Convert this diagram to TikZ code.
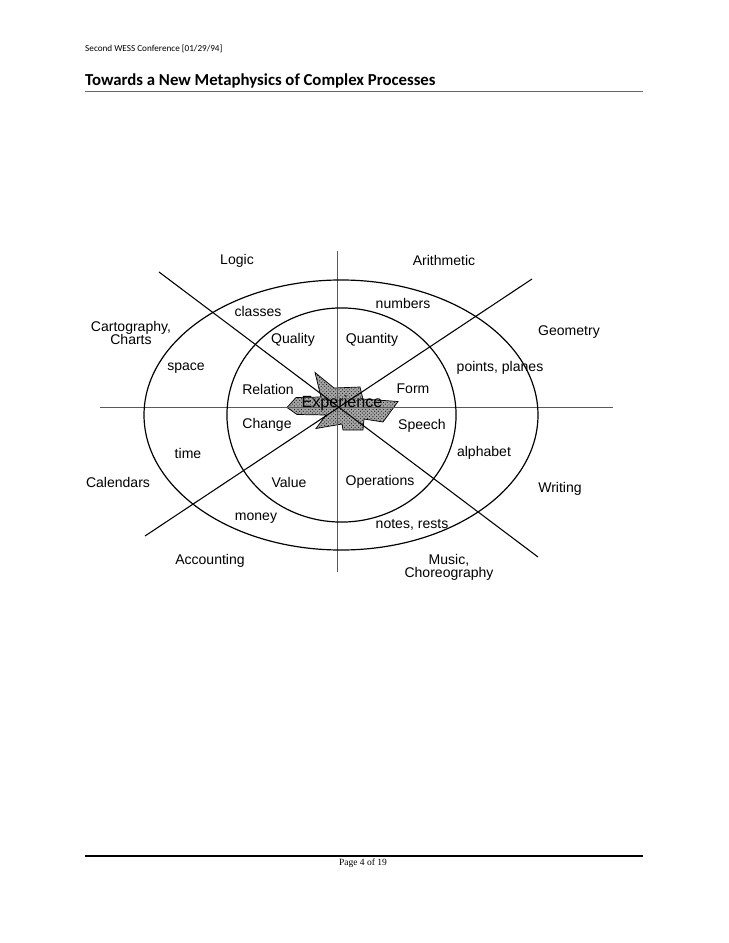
\documentclass[tikz,border=0pt]{standalone}
\usepackage{fontspec}
\setmainfont{Liberation Sans}
\newfontfamily\calib{Carlito}
\newfontfamily\timesf{Liberation Serif}
\usetikzlibrary{patterns}
\begin{document}
\begin{tikzpicture}[x=0.84066pt,y=-0.84066pt,
  lbl/.style={font=\fontsize{11.8}{11.3}\selectfont, inner sep=0pt, align=center},
  axisline/.style={draw=black!65, line width=1.3pt},
  diagline/.style={draw=black, line width=0.9pt},
  ring/.style={draw=black, line width=1pt},
  starfill/.style={fill=black!35},
  stardots/.style={pattern=crosshatch dots, pattern color=black!90},
  starline/.style={draw=black, line width=0.6pt}]
\useasboundingbox (0,0) rectangle (728,943);
\fill[white] (0,0) rectangle (728,943);
% header
\node[font=\calib\fontsize{7.7}{9}\selectfont, anchor=west, inner sep=0pt] (hdr) at (85,49) {Second WESS Conference [01/29/94]};
\node[font=\calib\bfseries\fontsize{14.1}{16}\selectfont, anchor=west, inner sep=0pt] (ttl) at (85,81) {Towards a New Metaphysics of Complex Processes};
\coordinate (hl) at (85,91); \coordinate (hr) at (643,91);
\draw[black!60, line width=0.8pt] (hl) -- (hr);
% footer
\coordinate (fl) at (85,856); \coordinate (fr) at (643,856);
\draw[black, line width=1.6pt] (fl) -- (fr);
\node[font=\timesf\fontsize{8}{9}\selectfont, inner sep=0pt] (pg) at (363,863.5) {Page 4 of 19};
% star
\path[starfill] (287,407.5) -- (296,397.5) -- (321,397) -- (315,372.5) -- (334,388) -- (360,387) -- (363,399) -- (398,401.5) -- (383,422) -- (364,419) -- (363,430) -- (343,430) -- (342,424) -- (316,428.5) -- (326,415) -- (297,414.5) -- cycle;
\path[stardots] (287,407.5) -- (296,397.5) -- (321,397) -- (315,372.5) -- (334,388) -- (360,387) -- (363,399) -- (398,401.5) -- (383,422) -- (364,419) -- (363,430) -- (343,430) -- (342,424) -- (316,428.5) -- (326,415) -- (297,414.5) -- cycle;
\path[starline] (287,407.5) -- (296,397.5) -- (321,397) -- (315,372.5) -- (334,388) -- (360,387) -- (363,399) -- (398,401.5) -- (383,422) -- (364,419) -- (363,430) -- (343,430) -- (342,424) -- (316,428.5) -- (326,415) -- (297,414.5) -- cycle;
% axes
\coordinate (vt) at (337.5,251); \coordinate (vb) at (337.5,572);
\coordinate (hlft) at (100,407.5); \coordinate (hrt) at (613,407.5);
\coordinate (d1a) at (159,272); \coordinate (d1b) at (538,557);
\coordinate (d2a) at (532,279); \coordinate (d2b) at (145,536);
\path[axisline] (vt) -- (vb);
\path[axisline] (hlft) -- (hrt);
\path[diagline] (d1a) -- (d1b);
\path[diagline] (d2a) -- (d2b);
% ellipses
\coordinate (oc) at (341,415);
\path[ring] (oc) ellipse [x radius=165.6pt, y radius=113.5pt];
\coordinate (ic) at (341.5,415);
\path[ring] (ic) ellipse [x radius=96.3pt, y radius=90pt];
% labels
\node[font=\fontsize{13.6}{15}\selectfont, inner sep=0pt] (exp) at (342,403) {Experience};
\node[lbl] (logic) at (237,261) {Logic};
\node[lbl] (arith) at (444,260) {Arithmetic};
\node[lbl] (classes) at (258,311) {classes};
\node[lbl] (numbers) at (403,303) {numbers};
\node[lbl] (carto) at (131,333) {Cartography,\\Charts};
\node[lbl] (geom) at (569,332) {Geometry};
\node[lbl] (quality) at (293,340) {Quality};
\node[lbl] (quantity) at (372,340) {Quantity};
\node[lbl] (space) at (186,368) {space};
\node[lbl] (points) at (500,368) {points, planes};
\node[lbl] (relation) at (268,389) {Relation};
\node[lbl] (form) at (413,389) {Form};
\node[lbl] (change) at (267,425) {Change};
\node[lbl] (speech) at (422,426) {Speech};
\node[lbl] (time) at (188,453) {time};
\node[lbl] (alpha) at (484,453) {alphabet};
\node[lbl] (cal) at (118,482) {Calendars};
\node[lbl] (value) at (289,482) {Value};
\node[lbl] (oper) at (380,482) {Operations};
\node[lbl] (writing) at (560,489) {Writing};
\node[lbl] (money) at (256,518) {money};
\node[lbl] (notes) at (412,525) {notes, rests};
\node[lbl] (acct) at (210,561) {Accounting};
\node[lbl] (music) at (449,567.5) {Music,\\Choreography};
\end{tikzpicture}
\end{document}
